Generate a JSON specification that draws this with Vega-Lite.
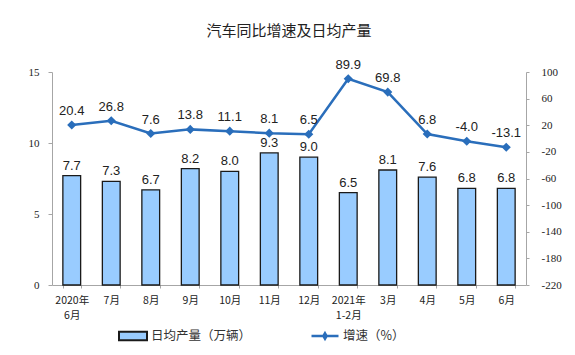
{
  "$schema": "https://vega.github.io/schema/vega-lite/v6.json",
  "autosize": {"type": "none"},
  "width": 474,
  "height": 213,
  "padding": {"left": 52, "top": 72, "right": 49, "bottom": 70},
  "background": "white",
  "title": {
    "text": "汽车同比增速及日均产量",
    "font": "Noto Sans CJK SC",
    "fontSize": 15,
    "fontWeight": "normal",
    "color": "#222222",
    "anchor": "middle",
    "offset": 20
  },
  "config": {
    "locale": {"number": {"decimal": ".", "thousands": ",", "grouping": [3], "currency": ["$", ""], "minus": "-"}},
    "view": {"stroke": null},
    "axis": {"grid": false, "domainColor": "#A6A6A6", "tickColor": "#A6A6A6", "labelColor": "#222222", "labelFont": "Liberation Serif", "labelFontSize": 11, "title": null}
  },
  "data": {
    "values": [
      {"month": "2020年|6月", "prod": 7.7, "growth": 20.4},
      {"month": "7月", "prod": 7.3, "growth": 26.8},
      {"month": "8月", "prod": 6.7, "growth": 7.6},
      {"month": "9月", "prod": 8.2, "growth": 13.8},
      {"month": "10月", "prod": 8.0, "growth": 11.1},
      {"month": "11月", "prod": 9.3, "growth": 8.1},
      {"month": "12月", "prod": 9.0, "growth": 6.5},
      {"month": "2021年|1-2月", "prod": 6.5, "growth": 89.9},
      {"month": "3月", "prod": 8.1, "growth": 69.8},
      {"month": "4月", "prod": 7.6, "growth": 6.8},
      {"month": "5月", "prod": 6.8, "growth": -4.0},
      {"month": "6月", "prod": 6.8, "growth": -13.1}
    ]
  },
  "encoding": {
    "x": {
      "field": "month", "type": "nominal", "sort": null,
      "scale": {"paddingInner": 0.55, "paddingOuter": 0.275},
      "axis": {"labelAngle": 0, "labelExpr": "split(datum.label, '|')", "labelPadding": 7, "tickBand": "extent", "tickSize": 3, "labelFont": "Noto Sans CJK SC", "labelFontSize": 10.5, "labelLineHeight": 15, "labelBaseline": "top"}
    }
  },
  "layer": [
    {
      "encoding": {
        "y": {"field": "prod", "type": "quantitative", "scale": {"domain": [0, 15]}, "axis": {"values": [0, 5, 10, 15], "orient": "left", "tickSize": 4, "labelPadding": 9}}
      },
      "layer": [
        {
          "mark": {"type": "bar", "stroke": "#1A1A1A", "strokeWidth": 1.3},
          "encoding": {
            "fill": {"datum": "日均产量（万辆）", "type": "nominal", "scale": {"range": ["#99CCFF"]},
              "legend": {"title": null, "orient": "none", "legendX": 66, "legendY": 249, "symbolType": "M-1,-0.3H1V0.3H-1Z", "symbolSize": 784, "symbolStrokeColor": "#1A1A1A", "symbolStrokeWidth": 2, "labelFont": "Noto Sans CJK SC", "labelFontSize": 12.5, "labelColor": "#333333", "padding": 0, "labelOffset": 3}}
          }
        },
        {
          "mark": {"type": "text", "dy": -10, "font": "Liberation Sans", "fontSize": 13, "color": "#222222"},
          "encoding": {"text": {"field": "prod", "type": "quantitative", "format": ".1f"}}
        }
      ]
    },
    {
      "encoding": {
        "y": {"field": "growth", "type": "quantitative", "scale": {"domain": [-220, 100]}, "axis": {"values": [100, 60, 20, -20, -60, -100, -140, -180, -220], "orient": "right", "tickSize": 3, "labelPadding": 12}}
      },
      "layer": [
        {
          "mark": {"type": "line", "strokeWidth": 2.5, "point": {"shape": "diamond", "size": 40, "filled": true, "color": "#2A6EBB"}},
          "encoding": {
            "stroke": {"datum": "增速（%）", "type": "nominal", "scale": {"range": ["#2A6EBB"]},
              "legend": {"title": null, "orient": "none", "legendX": 258, "legendY": 249, "symbolType": "M-1,0H1M0,-0.2L0.12,0L0,0.2L-0.12,0Z", "symbolSize": 729, "symbolStrokeWidth": 2.5, "symbolFillColor": "#2A6EBB", "labelFont": "Noto Sans CJK SC", "labelFontSize": 12.5, "labelColor": "#333333", "padding": 0, "labelOffset": 3}}
          }
        },
        {
          "mark": {"type": "text", "dy": -14, "font": "Liberation Sans", "fontSize": 13, "color": "#222222"},
          "encoding": {"text": {"field": "growth", "type": "quantitative", "format": ".1f"}}
        }
      ]
    }
  ],
  "resolve": {"scale": {"y": "independent"}}
}
